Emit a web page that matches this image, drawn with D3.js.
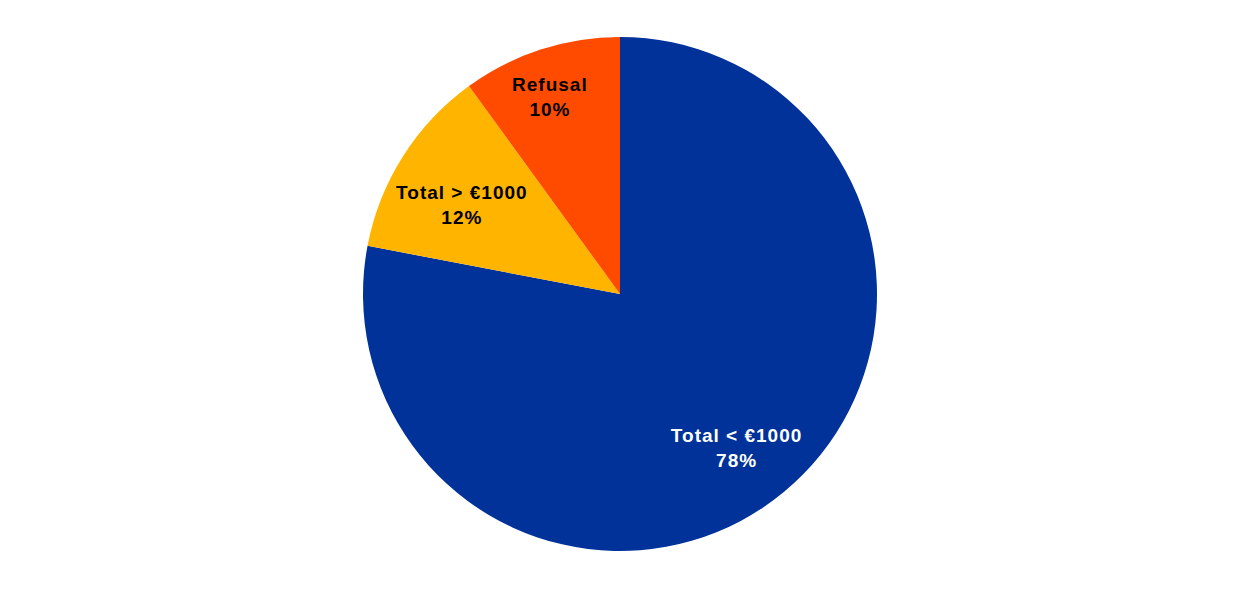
<!DOCTYPE html>
<html><head><meta charset="utf-8">
<script src="https://cdn.jsdelivr.net/npm/d3@7"></script>
<style>body{margin:0;background:#fff}svg{display:block}</style>
</head><body>
<script>
const categories = ["Total < €1000", "Total > €1000", "Refusal"];
const values = [78, 12, 10];
const colors = ["#003299", "#FFB400", "#FF4B00"];
const labelColors = ["#ffffff", "#000000", "#000000"];

const W = 1240, H = 589, cx = 620, cy = 294, R = 257;
const svg = d3.select("body").append("svg").attr("width", W).attr("height", H);
const g = svg.append("g").attr("transform", `translate(${cx},${cy})`);
const data = categories.map((c, i) => ({cat: c, v: values[i], i}));
const pie = d3.pie().value(d => d.v).sort(null);
const arc = d3.arc().innerRadius(0).outerRadius(R);
const arcs = pie(data);
g.selectAll("path").data(arcs).join("path").attr("d", arc).attr("fill", d => colors[d.data.i]);
const labelFactor = [0.73, 0.715, 0.845];
const lab = g.selectAll("text").data(arcs).join("text")
  .attr("text-anchor", "middle")
  .attr("font-family", "'Liberation Sans', Arial, sans-serif")
  .attr("font-weight", "bold").attr("font-size", 19)
  .attr("letter-spacing", 1)
  .attr("fill", d => labelColors[d.data.i])
  .attr("transform", d => {
    const a = (d.startAngle + d.endAngle) / 2, r = R * labelFactor[d.data.i];
    return `translate(${r * Math.sin(a) - 3},${-r * Math.cos(a)})`;
  });
lab.append("tspan").attr("x", 0).attr("dy", "0.17em").text(d => d.data.cat);
lab.append("tspan").attr("x", 0).attr("dy", "1.33em").text(d => d.data.v + "%");
</script>
</body></html>
